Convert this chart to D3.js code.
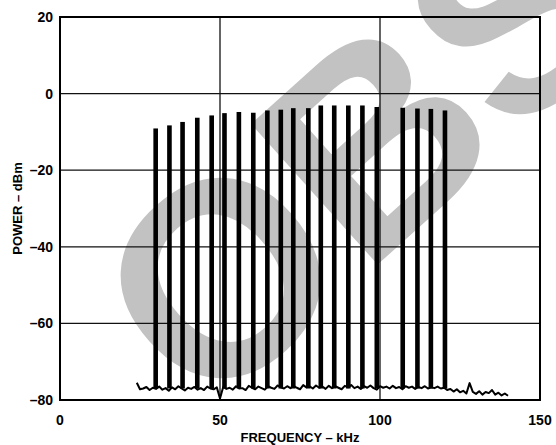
<!DOCTYPE html>
<html>
<head>
<meta charset="utf-8">
<script src="https://cdn.jsdelivr.net/npm/d3@7"></script>
<style>
  body { margin: 0; background: #fff; }
  svg { display: block; font-family: "Liberation Sans", Arial, sans-serif; }
</style>
</head>
<body>
<svg id="chart"></svg>
<script>
// tone frequencies (kHz) and peak power (dBm)
const toneFreq = [29.9, 34.2, 38.3, 42.9, 47.4, 51.4, 55.9, 60.4, 64.8, 69.0, 72.9,
                  77.6, 81.5, 85.7, 90.1, 94.5, 99.0, 107.1, 111.7, 115.9, 120.3];
const tonePower = [-9.1, -8.3, -7.4, -6.3, -5.7, -5.1, -4.8, -5.0, -4.4, -4.2, -3.8,
                   -3.8, -3.1, -3.1, -3.1, -3.1, -3.5, -3.7, -3.9, -4.0, -4.4];

// noise floor, one reading per kHz starting at 24 kHz
const noiseStart = 24;
const noiseStep = 1;
const noisePower = [-75.5, -77.2, -77.0, -76.6, -77.4, -76.8, -77.1, -76.5, -77.3, -76.9,
                    -77.6, -76.7, -77.2, -76.4, -77.0, -77.5, -76.8, -77.1, -76.6, -77.3,
                    -76.9, -77.4, -76.5, -77.0, -77.2, -76.7, -79.6, -76.6, -77.1, -76.8,
                    -77.3, -76.4, -77.0, -76.9, -77.4, -76.3, -76.8, -77.2, -76.5, -76.9,
                    -77.3, -76.4, -76.8, -77.1, -76.2, -76.7, -77.0, -76.4, -76.9, -76.3,
                    -76.8, -77.2, -76.1, -76.7, -76.4, -77.0, -76.2, -76.8, -76.5, -77.1,
                    -76.3, -76.9, -76.4, -76.8, -77.2, -76.3, -76.7, -76.1, -76.9, -76.5,
                    -77.1, -76.4, -76.8, -76.2, -76.9, -77.3, -76.4, -76.8, -76.5, -77.0,
                    -76.3, -76.9, -76.6, -77.2, -76.4, -76.8, -76.5, -77.1, -76.6, -76.9,
                    -76.4, -77.0, -76.7, -76.9, -76.5, -77.0, -76.8, -77.4, -77.1, -77.8,
                    -77.2, -78.0, -77.6, -78.3, -75.6, -77.9, -78.4, -77.7, -78.6, -77.9,
                    -78.2, -77.4, -78.6, -78.1, -78.8, -78.3, -78.9];

const xTicks = [0, 50, 100, 150];
const yTicks = [-80, -60, -40, -20, 0, 20];
const xGrid = [50, 100];
const yGrid = [-60, -40, -20, 0];

class SpectrumChart {

    constructor( config ) {
        this.config = {
            parent: config.parent,
            width: config.width || 556,
            height: config.height || 445,
            margin: config.margin || {top:17, right:16, bottom:45, left:60}
        }
        this.init();
    }

    init() {
        let self = this;

        self.svg = d3.select( self.config.parent )
            .attr('width', self.config.width)
            .attr('height', self.config.height);

        self.inner_width = self.config.width - self.config.margin.left - self.config.margin.right;
        self.inner_height = self.config.height - self.config.margin.top - self.config.margin.bottom;

        self.xscale = d3.scaleLinear()
            .domain( [0, 150] )
            .range( [0, self.inner_width] );

        self.yscale = d3.scaleLinear()
            .domain( [-80, 20] )
            .range( [self.inner_height, 0] );

        // watermark sits under everything
        self.svg.append('text')
            .attr('transform', 'translate(205,420) rotate(-42)')
            .attr('font-size', 275)
            .attr('font-weight', 'bold')
            .attr('fill', '#c2c2c2')
            .text('OBS');

        self.chart = self.svg.append('g')
            .attr('transform', `translate(${self.config.margin.left}, ${self.config.margin.top})`);
    }

    render() {
        let self = this;
        const x = self.xscale, y = self.yscale;

        // grid
        self.chart.selectAll('.vgrid')
            .data(xGrid)
            .enter()
            .append('line')
            .attr('x1', d => x(d)).attr('x2', d => x(d))
            .attr('y1', 0).attr('y2', self.inner_height)
            .attr('stroke', '#111')
            .attr('stroke-width', 1.3);

        self.chart.selectAll('.hgrid')
            .data(yGrid)
            .enter()
            .append('line')
            .attr('x1', 0).attr('x2', self.inner_width)
            .attr('y1', d => y(d)).attr('y2', d => y(d))
            .attr('stroke', '#111')
            .attr('stroke-width', 1.3);

        // noise floor
        const noiseLine = d3.line()
            .x( (d, i) => x(noiseStart + i * noiseStep) )
            .y( d => y(d) );

        self.chart.append('path')
            .attr('d', noiseLine(noisePower))
            .attr('stroke', 'black')
            .attr('stroke-width', 2)
            .attr('stroke-linejoin', 'round')
            .attr('fill', 'none');

        // tones
        const halfw = 0.72;
        self.chart.selectAll('.tone')
            .data(toneFreq)
            .enter()
            .append('rect')
            .attr('x', d => x(d - halfw))
            .attr('width', d => x(d + halfw) - x(d - halfw))
            .attr('y', (d, i) => y(tonePower[i]))
            .attr('height', (d, i) => y(-77) - y(tonePower[i]))
            .attr('fill', 'black');

        // frame
        self.chart.append('rect')
            .attr('width', self.inner_width)
            .attr('height', self.inner_height)
            .attr('fill', 'none')
            .attr('stroke', 'black')
            .attr('stroke-width', 2);

        // tick labels
        self.chart.selectAll('.xlab')
            .data(xTicks)
            .enter()
            .append('text')
            .attr('x', d => x(d))
            .attr('y', self.inner_height + 25)
            .attr('text-anchor', 'middle')
            .attr('font-size', '14px')
            .attr('font-weight', 'bold')
            .text(d => d);

        self.chart.selectAll('.ylab')
            .data(yTicks)
            .enter()
            .append('text')
            .attr('x', -7)
            .attr('y', d => y(d) + 5)
            .attr('text-anchor', 'end')
            .attr('font-size', '14px')
            .attr('font-weight', 'bold')
            .text(d => d < 0 ? '\u2013' + Math.abs(d) : d);

        // axis titles
        self.svg.append('text')
            .attr('x', self.config.margin.left + self.inner_width / 2)
            .attr('y', self.config.height - 3)
            .attr('text-anchor', 'middle')
            .attr('font-size', '13px')
            .attr('font-weight', 'bold')
            .text('FREQUENCY \u2013 kHz');

        self.svg.append('text')
            .attr('transform', `translate(22, ${self.config.margin.top + self.inner_height / 2}) rotate(-90)`)
            .attr('text-anchor', 'middle')
            .attr('font-size', '13px')
            .attr('font-weight', 'bold')
            .text('POWER \u2013 dBm');
    }
}

const chart = new SpectrumChart({ parent: '#chart' });
chart.render();
</script>
</body>
</html>
